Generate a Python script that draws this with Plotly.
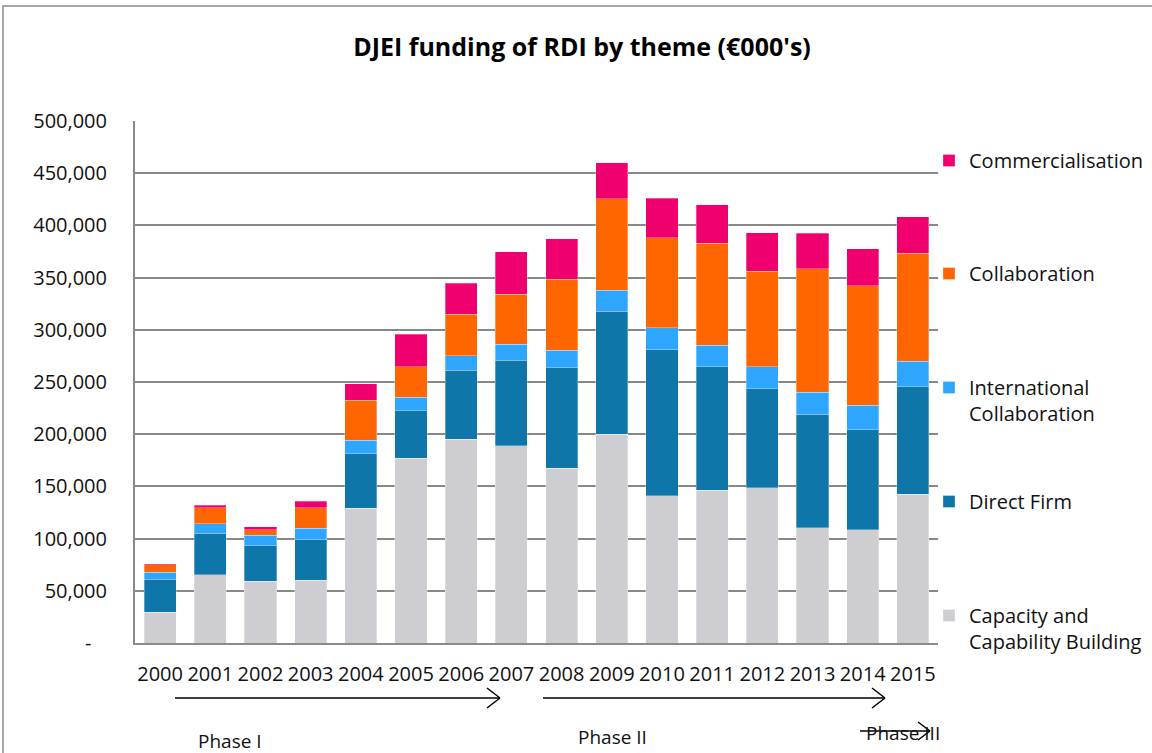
import plotly.graph_objects as go

years = [str(y) for y in range(2000, 2016)]

capacity = [29300, 65300, 59300, 59900, 129100, 176900, 195300, 188900, 167300, 200100, 141100, 146300, 148800, 110200, 108300, 142400]
direct_firm = [32000, 39900, 34000, 39100, 52200, 45500, 66000, 81900, 96200, 117600, 139900, 118200, 94600, 108700, 95900, 102900]
intl_collab = [6700, 8900, 10000, 10900, 12800, 13100, 14000, 15300, 16900, 20000, 21100, 20700, 21400, 21100, 23300, 24600]
collaboration = [7000, 15300, 5300, 19500, 38500, 29000, 39500, 48100, 67900, 87700, 86000, 97500, 91100, 118500, 114800, 103200]
commercialisation = [1000, 2500, 2600, 6400, 15600, 31200, 29900, 40600, 38900, 34400, 37900, 37300, 37000, 34000, 35300, 35100]

series_names = ["Capacity and<br>Capability Building", "Direct Firm", "International<br>Collaboration",
                "Collaboration", "Commercialisation"]
series_values = [capacity, direct_firm, intl_collab, collaboration, commercialisation]
series_colors = ["#CECED2", "#0E76A8", "#2EA6FF", "#FF6600", "#F0006E"]

tick_vals = [0, 50000, 100000, 150000, 200000, 250000, 300000, 350000, 400000, 450000, 500000]
tick_text = ["-\u00a0\u00a0\u00a0", "50,000", "100,000", "150,000", "200,000", "250,000", "300,000",
             "350,000", "400,000", "450,000", "500,000"]

FONT = "Open Sans"
FS = 20

W, H = 1152, 753
L, R, T, B = 135, 938, 121, 643

def px(x):
    return (x - L) / (R - L)

def py(y):
    return (B - y) / (B - T)

# legend first-line centres (pixels) for each series, in series order
legend_centres = [615, 501, 387, 273, 160]
legend_ids = ["legend5", "legend4", "legend3", "legend2", "legend"]

fig = go.Figure()
for name, vals, col, lid in zip(series_names, series_values, series_colors, legend_ids):
    fig.add_trace(go.Bar(
        x=years, y=vals, name=name, legend=lid, showlegend=True,
        marker=dict(color=col, line=dict(color="rgba(255,255,255,0.6)", width=0.5)),
    ))

legends = {}
for lid, cy in zip(legend_ids, legend_centres):
    legends[lid] = dict(xref="paper", yref="paper",
                        x=px(929), xanchor="left", y=py(cy - 19), yanchor="top",
                        valign="top", font=dict(family=FONT, size=FS, color="#111"),
                        bgcolor="rgba(0,0,0,0)", visible=True)

shapes = []
shapes.append(dict(type="rect", xref="paper", yref="paper",
                   x0=px(3), x1=px(1170), y0=py(6), y1=py(770),
                   line=dict(color="#8a8a8a", width=1.5), fillcolor="rgba(0,0,0,0)", layer="below"))

def arrow(x0, x1, y, head=13, half=10):
    shapes.append(dict(type="line", xref="paper", yref="paper",
                       x0=px(x0), x1=px(x1), y0=py(y), y1=py(y),
                       line=dict(color="black", width=1.5)))
    shapes.append(dict(type="line", xref="paper", yref="paper",
                       x0=px(x1 - head), x1=px(x1), y0=py(y - half), y1=py(y),
                       line=dict(color="black", width=1.5)))
    shapes.append(dict(type="line", xref="paper", yref="paper",
                       x0=px(x1 - head), x1=px(x1), y0=py(y + half), y1=py(y),
                       line=dict(color="black", width=1.5)))

arrow(175, 500, 698)
arrow(543, 885, 698)
arrow(860, 930, 731, head=12, half=9)

annotations = []
for txt, x, y in [("Phase I", 230, 741), ("Phase II", 612, 737), ("Phase III", 903, 733)]:
    annotations.append(dict(text=txt, xref="paper", yref="paper", x=px(x), y=py(y),
                            xanchor="center", yanchor="middle", showarrow=False,
                            font=dict(family=FONT, size=19, color="#111")))

fig.update_layout(
    width=W, height=H,
    margin=dict(l=L, r=W - R, t=T, b=H - B, autoexpand=False),
    paper_bgcolor="white", plot_bgcolor="white",
    barmode="stack", bargap=0.36, showlegend=True,
    font=dict(family=FONT, size=FS, color="#111"),
    title=dict(text="<b>DJEI funding of RDI by theme (€000's)</b>",
               x=582 / W, xanchor="center", y=1 - 47 / H, yanchor="middle",
               font=dict(family=FONT, size=25, color="#000")),
    xaxis=dict(showgrid=False, showline=True, linecolor="#8a8a8a", linewidth=2,
               ticks="", ticklabelstandoff=12, tickfont=dict(size=FS, color="#111")),
    yaxis=dict(range=[0, 500000], tickvals=tick_vals, ticktext=tick_text,
               showgrid=True, gridcolor="#888888", gridwidth=1.8,
               showline=True, linecolor="#8a8a8a", linewidth=2,
               zeroline=False, ticks="", ticklabelstandoff=22,
               tickfont=dict(size=FS, color="#111")),
    shapes=shapes, annotations=annotations,
    **legends,
)

fig.write_html("out.html", config={"displayModeBar": False},
               post_script="document.body.style.margin='0';document.body.style.overflow='hidden';")
